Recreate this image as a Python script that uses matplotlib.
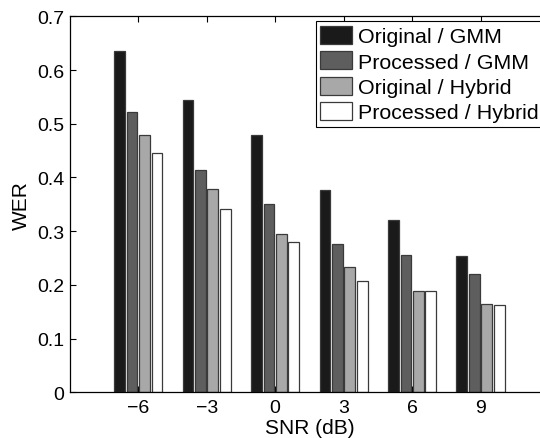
"""Grouped bar chart of WER versus SNR for GMM and hybrid systems."""

import numpy as np
import matplotlib
matplotlib.use("Agg")
import matplotlib.pyplot as plt

snr = [-6, -3, 0, 3, 6, 9]
orig_gmm = [0.636, 0.544, 0.479, 0.376, 0.320, 0.254]
proc_gmm = [0.521, 0.413, 0.351, 0.277, 0.256, 0.220]
orig_hybrid = [0.479, 0.379, 0.295, 0.233, 0.189, 0.164]
proc_hybrid = [0.445, 0.341, 0.279, 0.207, 0.188, 0.163]
labels = ["Original / GMM", "Processed / GMM", "Original / Hybrid", "Processed / Hybrid"]

plt.rcParams["font.family"] = ["Liberation Sans", "DejaVu Sans"]
plt.rcParams["font.size"] = 15

fig = plt.figure(figsize=(5.4, 4.39), dpi=100)
# right spine falls just past the figure edge, the original is cropped there
ax = fig.add_axes([69.7 / 540, 1 - 393.3 / 439, 479.3 / 540, 376 / 439])

x = np.array(snr, dtype=float)
series = [orig_gmm, proc_gmm, orig_hybrid, proc_hybrid]
colors = ["#1a1a1a", "#5e5e5e", "#a8a8a8", "#ffffff"]
offsets = [-0.82, -0.27, 0.27, 0.82]
for vals, col, off, lab in zip(series, colors, offsets, labels):
    ax.bar(x + off, vals, width=0.47, color=col, edgecolor="#3a3a3a",
           linewidth=0.9, label=lab, zorder=2)

ax.set_xlim(-9, 12)
ax.set_ylim(0, 0.7)
ax.set_xticks(snr)
ax.set_xticklabels(["\u22126", "\u22123", "0", "3", "6", "9"])
ax.set_yticks(np.arange(0, 0.71, 0.1))
ax.set_yticklabels(["0", "0.1", "0.2", "0.3", "0.4", "0.5", "0.6", "0.7"])
ax.tick_params(direction="in", top=True, right=True, length=4, width=0.8,
               labelsize=14)
ax.tick_params(axis="x", pad=5)
ax.tick_params(axis="y", pad=4)
for s in ax.spines.values():
    s.set_linewidth(0.9)

ax.set_xlabel("SNR (dB)")
ax.xaxis.set_label_coords(0.5, -0.068)
ax.set_ylabel("WER")
ax.yaxis.set_label_coords(-0.0807, 0.5)

leg = ax.legend(loc="upper left", bbox_to_anchor=(0.513, 0.9867), fancybox=False,
                edgecolor="black", framealpha=1, fontsize=15.4, handlelength=1.5,
                handleheight=0.9, handletextpad=0.24, labelspacing=0.24,
                borderpad=0.22, borderaxespad=0)
leg.get_frame().set_linewidth(0.8)

fig.savefig("out.png", dpi=100)
